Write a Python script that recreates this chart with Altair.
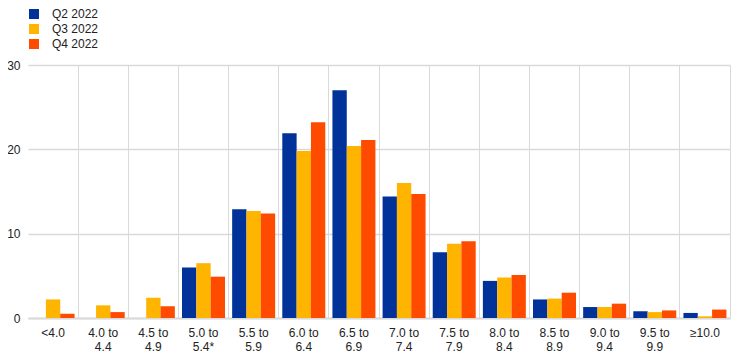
import altair as alt
import pandas as pd

categories = ["<4.0", "4.0 to 4.4", "4.5 to 4.9", "5.0 to 5.4*", "5.5 to 5.9", "6.0 to 6.4",
              "6.5 to 6.9", "7.0 to 7.4", "7.5 to 7.9", "8.0 to 8.4", "8.5 to 8.9",
              "9.0 to 9.4", "9.5 to 9.9", "≥10.0"]
series = ["Q2 2022", "Q3 2022", "Q4 2022"]
q2_2022 = [0.0, 0.0, 0.0, 6.0, 12.9, 21.9, 27.0, 14.4, 7.8, 4.4, 2.2, 1.3, 0.8, 0.6]
q3_2022 = [2.2, 1.5, 2.4, 6.5, 12.7, 19.8, 20.4, 16.0, 8.8, 4.8, 2.3, 1.3, 0.7, 0.2]
q4_2022 = [0.5, 0.7, 1.4, 4.9, 12.4, 23.2, 21.1, 14.7, 9.1, 5.1, 3.0, 1.7, 0.9, 1.0]
colors = ["#003299", "#ffb400", "#ff4b00"]

rows = []
for s, vals in zip(series, [q2_2022, q3_2022, q4_2022]):
    for c, v in zip(categories, vals):
        rows.append({"category": c, "series": s, "value": v})
df = pd.DataFrame(rows)

label_expr = ("indexof(datum.label, ' to ') >= 0 ? "
              "[slice(datum.label, 0, indexof(datum.label, ' to ') + 3), "
              "slice(datum.label, indexof(datum.label, ' to ') + 4)] : datum.label")

chart = alt.Chart(df).mark_bar().encode(
    x=alt.X("category:N", sort=categories, title=None,
            scale=alt.Scale(paddingInner=0, paddingOuter=0),
            axis=alt.Axis(labelAngle=0, labelExpr=label_expr, ticks=False,
                          grid=True, bandPosition=1, gridColor="#d9d9d9", gridWidth=1,
                          domainColor="#d9d9d9", domainWidth=2,
                          labelFontSize=12, labelColor="#222222", labelFont="Liberation Sans",
                          labelPadding=9, labelLineHeight=14, labelBaseline="top")),
    xOffset=alt.XOffset("series:N", sort=series,
                        scale=alt.Scale(paddingInner=0, paddingOuter=0.25)),
    y=alt.Y("value:Q", title=None,
            scale=alt.Scale(domain=[0, 30]),
            axis=alt.Axis(values=[0, 10, 20, 30], ticks=False, domain=False,
                          gridColor="#d9d9d9", gridWidth=1.5,
                          labelFontSize=12, labelColor="#222222", labelFont="Liberation Sans",
                          labelPadding=8)),
    color=alt.Color("series:N", sort=series,
                    scale=alt.Scale(domain=series, range=colors),
                    legend=alt.Legend(title=None, orient="none", legendX=0, legendY=-57,
                                      direction="vertical", symbolType="square",
                                      symbolSize=100, symbolStrokeWidth=0,
                                      labelFontSize=12, labelFont="Liberation Sans",
                                      labelColor="#222222", labelOffset=12,
                                      rowPadding=3, padding=0)),
).properties(
    width=702, height=253,
    autosize=alt.AutoSizeParams(type="none"),
    padding={"left": 20, "top": 57, "right": 6, "bottom": 42},
).configure_view(stroke=None)

chart.save("out.html", embed_options={"renderer": "svg", "actions": False})
